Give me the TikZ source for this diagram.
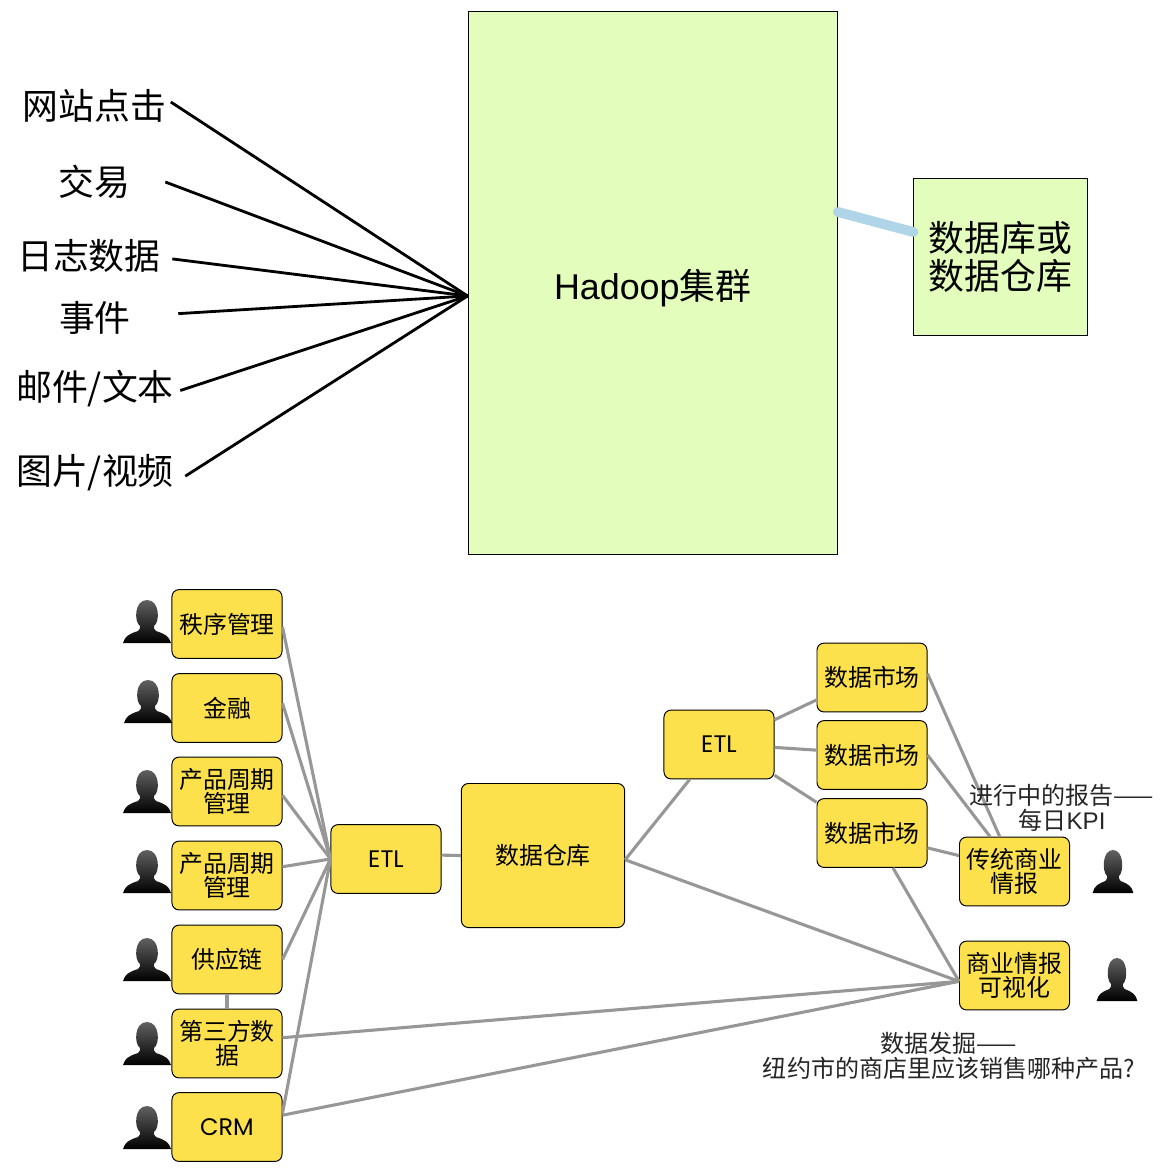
\documentclass[tikz,border=0pt]{standalone}
\usepackage{fontspec}
\setmainfont{Noto Sans CJK SC}
\newfontfamily\hfont{Liberation Sans}
\newfontfamily\ffont{Poppins}
\definecolor{leaf}{HTML}{E2FDBC}
\definecolor{sun}{HTML}{FDE14C}
\definecolor{wire}{HTML}{979797}
\definecolor{pipe}{HTML}{B0D4E8}
\tikzset{
    big/.style={font=\fontsize{25.5}{26.5}\selectfont, align=center, inner sep=0pt},
    src/.style={big, minimum height=0.9cm},
    green/.style={big, draw, fill=leaf, line width=0.7pt},
    yel/.style={draw, fill=sun, rounded corners=5pt, line width=0.7pt, inner sep=0pt, align=center,
        minimum width=2.75cm, minimum height=1.72cm, font=\fontsize{17}{17.4}\selectfont},
    note/.style={font=\fontsize{17.1}{18}\selectfont, align=center, inner sep=0pt, text=black!85},
    feed/.style={line width=2pt},
    link/.style={wire, line width=2.2pt},
    person/.pic={
        \path[top color=black!62, bottom color=black]
            (-24,0) .. controls (-22,-7) and (-18,-9) .. (-9,-12)
            .. controls (-7,-13) and (-7,-15) .. (-7,-17)
            .. controls (-13,-21) and (-13,-43) .. (0,-43)
            .. controls (13,-43) and (13,-21) .. (7,-17)
            .. controls (7,-15) and (7,-13) .. (9,-12)
            .. controls (18,-9) and (22,-7) .. (24,0) -- cycle;
    }
}
\begin{document}
\begin{tikzpicture}[x=0.025cm, y=-0.025cm]
    \useasboundingbox (0,0) rectangle (1167,1173);

    % top: sources, cluster, database
    \node[green, minimum width=9.23cm, minimum height=13.57cm] (cluster) at (652.7,283) {\rule{0pt}{29pt}{\hfont Hadoop}集群};
    \node[green, minimum width=4.33cm, minimum height=3.92cm] (db) at (1000.5,257) {数据库或\\数据仓库};
    \coordinate (hub) at (cluster.184.3);

    \node[src, minimum width=3.8cm] (site) at (94.5,106) {网站点击};
    \node[src, minimum width=3.55cm] (trade) at (94,182) {交易};
    \node[src, minimum width=4.15cm] (log) at (89,256) {日志数据};
    \node[src, minimum width=4.15cm] (event) at (95,318) {事件};
    \node[src, minimum width=4.25cm] (mail) at (95,389) {邮件/文本};
    \node[src, minimum width=4.5cm] (media) at (95,473) {图片/视频};

    \draw[feed] (site.3) -- (hub);
    \draw[feed] (trade.east) -- (hub);
    \draw[feed] (log.-2) -- (hub);
    \draw[feed] (event.3) -- (hub);
    \draw[feed] (mail.-1) -- (hub);
    \draw[feed] (media.-2) -- (hub);
    \draw[pipe, line width=7pt, line cap=round] (cluster.21.4) -- (db.164.5);

    % bottom left: departments
    \node[yel] (order) at (227,624) {秩序管理};
    \node[yel] (finance) at (227,708) {金融};
    \node[yel] (prodA) at (227,791.5) {产品周期\\管理};
    \node[yel] (prodB) at (227,875.5) {产品周期\\管理};
    \node[yel] (supply) at (227,959.5) {供应链};
    \node[yel] (third) at (227,1043.5) {第三方数\\据};
    \node[yel] (crm) at (227,1127) {{\ffont CRM}};

    \pic at (147,643) {person};
    \pic at (148,723) {person};
    \pic at (147,813) {person};
    \pic at (147,893) {person};
    \pic at (147,981) {person};
    \pic at (147,1065) {person};
    \pic at (147,1149) {person};

    % middle
    \node[yel] (etlA) at (386,859) {{\ffont ETL}};
    \node[yel, minimum width=4.08cm, minimum height=3.6cm] (store) at (543,855.5) {数据仓库};
    \node[yel] (etlB) at (719,744.5) {{\ffont ETL}};
    \node[yel] (martA) at (872,677.5) {数据市场};
    \node[yel] (martB) at (872,755) {数据市场};
    \node[yel] (martC) at (872,833) {数据市场};

    % right
    \node[yel] (bi) at (1014.5,871.5) {传统商业\\情报};
    \node[yel] (viz) at (1014.5,975.5) {商业情报\\可视化};
    \pic[xscale=.85] at (1113,893) {person};
    \pic[xscale=.85] at (1117,1001) {person};

    \draw[link] (order.-3) -- (etlA.west);
    \draw[link] (finance.5) -- (etlA.west);
    \draw[link] (prodA.-4) -- (etlA.west);
    \draw[link] (prodB.9) -- (etlA.west);
    \draw[link] (supply.east) -- (etlA.west);
    \draw[link] (crm.14) -- (etlA.west);
    \draw[link] (supply.south) -- (third.north);
    \draw[link] (third.6) -- (viz.186);
    \draw[link] (crm.12) -- (viz.186);
    \draw[link] (etlA.4) -- (store.west);
    \draw[link] (store.-3) -- (etlB.230);
    \draw[link] (store.-3) -- (viz.186);
    \draw[link] (etlB.24) -- (martA.202);
    \draw[link] (etlB.-3) -- (martB.175);
    \draw[link] (etlB.-29) -- (martC.151);
    \draw[link] (martA.4) -- (bi.113);
    \draw[link] (martB.east) -- (bi.125);
    \draw[link] (martC.-15) -- (bi.164);
    \draw[link] (martC.-59) -- (viz.186);

    % notes
    \node[note] (daily) at (1062,808) {进行中的报告——\\每日{\hfont KPI}};
    \node[note] (mining) at (949,1056) {数据发掘——\\纽约市的商店里应该销售哪种产品?};
\end{tikzpicture}
\end{document}
